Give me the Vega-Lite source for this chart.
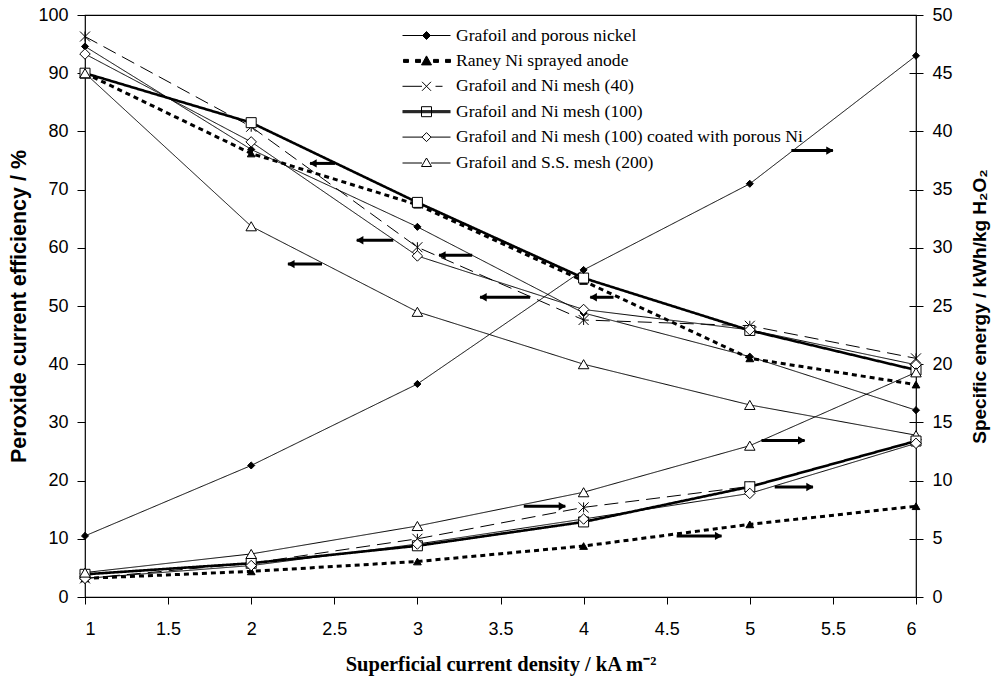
{
  "$schema": "https://vega.github.io/schema/vega-lite/v6.json",
  "width": 831,
  "height": 582,
  "autosize": {"type": "none"},
  "padding": {"left": 85, "top": 15, "right": 80, "bottom": 84},
  "background": "white",
  "config": {
    "view": {"stroke": "black", "strokeWidth": 1.2},
    "axis": {
      "grid": false,
      "domain": false,
      "tickColor": "black",
      "tickWidth": 1,
      "tickSize": 7,
      "labelFont": "Liberation Sans",
      "labelFontSize": 18,
      "labelColor": "black",
      "titleFont": "Liberation Sans",
      "titleFontSize": 18,
      "titleFontWeight": "bold",
      "titleColor": "black"
    },
    "legend": {
      "orient": "none",
      "legendX": 331,
      "legendY": 10,
      "title": null,
      "padding": 0,
      "labelFont": "Times New Roman, Liberation Serif, serif",
      "labelFontSize": 17.6,
      "labelColor": "black",
      "labelLimit": 500,
      "labelOffset": 19,
      "symbolSize": 400,
      "rowPadding": 5.4,
      "symbolStrokeWidth": 1,
      "symbolStrokeColor": "black"
    }
  },
  "datasets": {
    "curves": [
      {"series": "Grafoil and porous nickel", "x": 1, "eff": 94.6, "energy": 5.25},
      {"series": "Grafoil and porous nickel", "x": 2, "eff": 76.9, "energy": 11.3},
      {"series": "Grafoil and porous nickel", "x": 3, "eff": 63.6, "energy": 18.3},
      {"series": "Grafoil and porous nickel", "x": 4, "eff": 48.8, "energy": 28.1},
      {"series": "Grafoil and porous nickel", "x": 5, "eff": 41.3, "energy": 35.5},
      {"series": "Grafoil and porous nickel", "x": 6, "eff": 32.1, "energy": 46.5},
      {"series": "Raney Ni sprayed anode", "x": 1, "eff": 90.0, "energy": 1.6},
      {"series": "Raney Ni sprayed anode", "x": 2, "eff": 76.2, "energy": 2.2},
      {"series": "Raney Ni sprayed anode", "x": 3, "eff": 67.4, "energy": 3.05},
      {"series": "Raney Ni sprayed anode", "x": 4, "eff": 54.3, "energy": 4.38},
      {"series": "Raney Ni sprayed anode", "x": 5, "eff": 41.0, "energy": 6.24},
      {"series": "Raney Ni sprayed anode", "x": 6, "eff": 36.5, "energy": 7.8},
      {"series": "Grafoil and Ni mesh (40)", "x": 1, "eff": 96.3, "energy": 1.6},
      {"series": "Grafoil and Ni mesh (40)", "x": 2, "eff": 80.8, "energy": 2.9},
      {"series": "Grafoil and Ni mesh (40)", "x": 3, "eff": 60.1, "energy": 5.0},
      {"series": "Grafoil and Ni mesh (40)", "x": 4, "eff": 47.6, "energy": 7.7},
      {"series": "Grafoil and Ni mesh (40)", "x": 5, "eff": 46.6, "energy": 9.5},
      {"series": "Grafoil and Ni mesh (40)", "x": 6, "eff": 41.0, "energy": 13.4},
      {"series": "Grafoil and Ni mesh (100)", "x": 1, "eff": 90.0, "energy": 1.95},
      {"series": "Grafoil and Ni mesh (100)", "x": 2, "eff": 81.5, "energy": 2.9},
      {"series": "Grafoil and Ni mesh (100)", "x": 3, "eff": 67.8, "energy": 4.4},
      {"series": "Grafoil and Ni mesh (100)", "x": 4, "eff": 54.8, "energy": 6.45},
      {"series": "Grafoil and Ni mesh (100)", "x": 5, "eff": 45.8, "energy": 9.47},
      {"series": "Grafoil and Ni mesh (100)", "x": 6, "eff": 39.0, "energy": 13.4},
      {"series": "Grafoil and Ni mesh (100) coated with porous Ni", "x": 1, "eff": 93.3, "energy": 1.6},
      {"series": "Grafoil and Ni mesh (100) coated with porous Ni", "x": 2, "eff": 78.2, "energy": 2.7},
      {"series": "Grafoil and Ni mesh (100) coated with porous Ni", "x": 3, "eff": 58.6, "energy": 4.55},
      {"series": "Grafoil and Ni mesh (100) coated with porous Ni", "x": 4, "eff": 49.4, "energy": 6.7},
      {"series": "Grafoil and Ni mesh (100) coated with porous Ni", "x": 5, "eff": 45.9, "energy": 8.9},
      {"series": "Grafoil and Ni mesh (100) coated with porous Ni", "x": 6, "eff": 39.9, "energy": 13.2},
      {"series": "Grafoil and S.S. mesh (200)", "x": 1, "eff": 90.0, "energy": 2.1},
      {"series": "Grafoil and S.S. mesh (200)", "x": 2, "eff": 63.7, "energy": 3.7},
      {"series": "Grafoil and S.S. mesh (200)", "x": 3, "eff": 49.0, "energy": 6.1},
      {"series": "Grafoil and S.S. mesh (200)", "x": 4, "eff": 40.0, "energy": 9.0},
      {"series": "Grafoil and S.S. mesh (200)", "x": 5, "eff": 33.0, "energy": 13.0},
      {"series": "Grafoil and S.S. mesh (200)", "x": 6, "eff": 27.8, "energy": 19.3}
    ],
    "arrows": [
      {"x": 2.504, "x2": 2.354, "y": 74.5, "dir": "left"},
      {"x": 2.855, "x2": 2.635, "y": 61.3, "dir": "left"},
      {"x": 2.426, "x2": 2.221, "y": 57.2, "dir": "left"},
      {"x": 3.33, "x2": 3.13, "y": 58.7, "dir": "left"},
      {"x": 3.678, "x2": 3.377, "y": 51.5, "dir": "left"},
      {"x": 4.18, "x2": 4.04, "y": 51.5, "dir": "left"},
      {"x": 5.25, "x2": 5.5, "y": 76.7, "dir": "right"},
      {"x": 5.07, "x2": 5.33, "y": 26.9, "dir": "right"},
      {"x": 5.15, "x2": 5.38, "y": 18.9, "dir": "right"},
      {"x": 3.64, "x2": 3.89, "y": 15.6, "dir": "right"},
      {"x": 4.56, "x2": 4.83, "y": 10.5, "dir": "right"}
    ]
  },
  "layer": [
    {
      "layer": [
        {
          "data": {"name": "curves"},
          "layer": [
            {
              "mark": {"type": "line", "color": "black"},
              "encoding": {
                "x": {"field": "x", "type": "quantitative", "title": "Superficial current density / kA m⁻²",
                      "scale": {"domain": [1, 6]},
                      "axis": {"values": [1, 1.5, 2, 2.5, 3, 3.5, 4, 4.5, 5, 5.5, 6], "format": "~g", "labelPadding": 16, "titleFont": "Times New Roman, Liberation Serif, serif", "titleFontSize": 20.5, "titlePadding": 16}},
                "y": {"field": "eff", "type": "quantitative", "title": "Peroxide current efficiency / %",
                      "scale": {"domain": [0, 100]},
                      "axis": {"values": [0, 10, 20, 30, 40, 50, 60, 70, 80, 90, 100], "tickSize": 8, "labelPadding": 9, "titleFontSize": 21.5, "titlePadding": 7}},
                "detail": {"field": "series"},
                "strokeDash": {"field": "series", "type": "nominal", "legend": null,
                  "scale": {"domain": ["Grafoil and porous nickel", "Raney Ni sprayed anode", "Grafoil and Ni mesh (40)", "Grafoil and Ni mesh (100)", "Grafoil and Ni mesh (100) coated with porous Ni", "Grafoil and S.S. mesh (200)"],
                            "range": [[1, 0], [5, 4], [14, 7], [1, 0], [1, 0], [1, 0]]}},
                "strokeWidth": {"field": "series", "type": "ordinal", "legend": null,
                  "scale": {"type": "ordinal", "domain": ["Grafoil and porous nickel", "Raney Ni sprayed anode", "Grafoil and Ni mesh (40)", "Grafoil and Ni mesh (100)", "Grafoil and Ni mesh (100) coated with porous Ni", "Grafoil and S.S. mesh (200)"],
                            "range": [1, 3, 1, 2.6, 1, 1]}}
              }
            },
            {
              "mark": {"type": "point", "filled": true, "stroke": "black", "strokeWidth": 1, "opacity": 1},
              "encoding": {
                "x": {"field": "x", "type": "quantitative", "title": "Superficial current density / kA m⁻²"},
                "y": {"field": "eff", "type": "quantitative", "title": "Peroxide current efficiency / %"},
                "shape": {"field": "series", "type": "nominal", "legend": null,
                  "scale": {"domain": ["Grafoil and porous nickel", "Raney Ni sprayed anode", "Grafoil and Ni mesh (40)", "Grafoil and Ni mesh (100)", "Grafoil and Ni mesh (100) coated with porous Ni", "Grafoil and S.S. mesh (200)"],
                            "range": ["diamond", "triangle-up", "M-1,-1L1,1M-1,1L1,-1M0,-1L0,1", "square", "diamond", "triangle-up"]}},
                "fill": {"field": "series", "type": "nominal", "legend": null,
                  "scale": {"domain": ["Grafoil and porous nickel", "Raney Ni sprayed anode", "Grafoil and Ni mesh (40)", "Grafoil and Ni mesh (100)", "Grafoil and Ni mesh (100) coated with porous Ni", "Grafoil and S.S. mesh (200)"],
                            "range": ["black", "black", "transparent", "white", "white", "white"]}},
                "size": {"field": "series", "type": "ordinal", "legend": null,
                  "scale": {"type": "ordinal", "domain": ["Grafoil and porous nickel", "Raney Ni sprayed anode", "Grafoil and Ni mesh (40)", "Grafoil and Ni mesh (100)", "Grafoil and Ni mesh (100) coated with porous Ni", "Grafoil and S.S. mesh (200)"],
                            "range": [50, 60, 100, 100, 110, 110]}}
              }
            },
            {
              "data": {"name": "arrows"},
              "mark": {"type": "rule", "color": "black", "strokeWidth": 3},
              "encoding": {
                "x": {"field": "x", "type": "quantitative", "title": "Superficial current density / kA m⁻²"},
                "x2": {"field": "x2"},
                "y": {"field": "y", "type": "quantitative", "title": "Peroxide current efficiency / %"}
              }
            },
            {
              "data": {"name": "arrows"},
              "transform": [{"filter": "datum.dir === 'left'"}],
              "mark": {"type": "point", "shape": "triangle-left", "filled": true, "color": "black", "opacity": 1, "size": 70, "xOffset": 3},
              "encoding": {
                "x": {"field": "x2", "type": "quantitative", "title": "Superficial current density / kA m⁻²"},
                "y": {"field": "y", "type": "quantitative", "title": "Peroxide current efficiency / %"}
              }
            },
            {
              "data": {"name": "arrows"},
              "transform": [{"filter": "datum.dir === 'right'"}],
              "mark": {"type": "point", "shape": "triangle-right", "filled": true, "color": "black", "opacity": 1, "size": 70, "xOffset": -3},
              "encoding": {
                "x": {"field": "x2", "type": "quantitative", "title": "Superficial current density / kA m⁻²"},
                "y": {"field": "y", "type": "quantitative", "title": "Peroxide current efficiency / %"}
              }
            }
          ]
        },
        {
          "data": {"name": "curves"},
          "layer": [
            {
              "mark": {"type": "line", "color": "black"},
              "encoding": {
                "x": {"field": "x", "type": "quantitative", "title": "Superficial current density / kA m⁻²"},
                "y": {"field": "energy", "type": "quantitative", "title": "Specific energy / kWh/kg H₂O₂",
                      "scale": {"domain": [0, 50]},
                      "axis": {"orient": "right", "values": [0, 5, 10, 15, 20, 25, 30, 35, 40, 45, 50], "tickSize": 7, "labelPadding": 9, "titleAngle": 270, "titleBaseline": "top", "titleFontSize": 19, "titlePadding": 18}},
                "detail": {"field": "series"},
                "strokeDash": {"field": "series", "type": "nominal", "legend": null,
                  "scale": {"domain": ["Grafoil and porous nickel", "Raney Ni sprayed anode", "Grafoil and Ni mesh (40)", "Grafoil and Ni mesh (100)", "Grafoil and Ni mesh (100) coated with porous Ni", "Grafoil and S.S. mesh (200)"],
                            "range": [[1, 0], [5, 4], [14, 7], [1, 0], [1, 0], [1, 0]]}},
                "strokeWidth": {"field": "series", "type": "ordinal", "legend": null,
                  "scale": {"type": "ordinal", "domain": ["Grafoil and porous nickel", "Raney Ni sprayed anode", "Grafoil and Ni mesh (40)", "Grafoil and Ni mesh (100)", "Grafoil and Ni mesh (100) coated with porous Ni", "Grafoil and S.S. mesh (200)"],
                            "range": [1, 3, 1, 2.6, 1, 1]}}
              }
            },
            {
              "mark": {"type": "point", "filled": true, "stroke": "black", "strokeWidth": 1, "opacity": 1},
              "encoding": {
                "x": {"field": "x", "type": "quantitative", "title": "Superficial current density / kA m⁻²"},
                "y": {"field": "energy", "type": "quantitative", "title": "Specific energy / kWh/kg H₂O₂",
                      "axis": {"orient": "right", "values": [0, 5, 10, 15, 20, 25, 30, 35, 40, 45, 50], "tickSize": -7, "labels": false, "title": null}},
                "shape": {"field": "series", "type": "nominal", "legend": null,
                  "scale": {"domain": ["Grafoil and porous nickel", "Raney Ni sprayed anode", "Grafoil and Ni mesh (40)", "Grafoil and Ni mesh (100)", "Grafoil and Ni mesh (100) coated with porous Ni", "Grafoil and S.S. mesh (200)"],
                            "range": ["diamond", "triangle-up", "M-1,-1L1,1M-1,1L1,-1M0,-1L0,1", "square", "diamond", "triangle-up"]}},
                "fill": {"field": "series", "type": "nominal", "legend": null,
                  "scale": {"domain": ["Grafoil and porous nickel", "Raney Ni sprayed anode", "Grafoil and Ni mesh (40)", "Grafoil and Ni mesh (100)", "Grafoil and Ni mesh (100) coated with porous Ni", "Grafoil and S.S. mesh (200)"],
                            "range": ["black", "black", "transparent", "white", "white", "white"]}},
                "size": {"field": "series", "type": "ordinal", "legend": null,
                  "scale": {"type": "ordinal", "domain": ["Grafoil and porous nickel", "Raney Ni sprayed anode", "Grafoil and Ni mesh (40)", "Grafoil and Ni mesh (100)", "Grafoil and Ni mesh (100) coated with porous Ni", "Grafoil and S.S. mesh (200)"],
                            "range": [50, 60, 100, 100, 110, 110]}}
              }
            }
          ],
          "resolve": {"axis": {"y": "independent"}}
        }
      ],
      "resolve": {"scale": {"y": "independent"}}
    },
    {
      "data": {"name": "curves"},
      "mark": {"type": "point", "filled": true, "opacity": 0},
      "encoding": {
        "x": {"field": "x", "type": "quantitative", "title": "Superficial current density / kA m⁻²"},
        "y": {"field": "eff", "type": "quantitative", "scale": {"domain": [0, 100]}, "axis": null},
        "shape": {"field": "series", "type": "nominal",
          "scale": {"domain": ["Grafoil and porous nickel", "Raney Ni sprayed anode", "Grafoil and Ni mesh (40)", "Grafoil and Ni mesh (100)", "Grafoil and Ni mesh (100) coated with porous Ni", "Grafoil and S.S. mesh (200)"],
                    "range": [
                      "M-2.4,0H2.4M0,-0.4L0.4,0L0,0.4L-0.4,0Z",
                      "M-2.3,-0.15H-1.8V0.15H-2.3ZM-1.1,-0.15H-0.6V0.15H-1.1ZM0,-0.5L0.5,0.4L-0.5,0.4ZM0.7,-0.15H1.2V0.15H0.7ZM1.9,-0.15H2.4V0.15H1.9Z",
                      "M-2.4,0H-0.45M-0.45,-0.45L0.45,0.45M-0.45,0.45L0.45,-0.45M0.9,0H1.6",
                      "M-2.4,-0.1H2.4M-2.4,0H2.4M-2.4,0.1H2.4M-0.5,-0.5H0.5V0.5H-0.5Z",
                      "M-2.4,0H-0.45M0.45,0H2.4M0,-0.45L0.45,0L0,0.45L-0.45,0Z",
                      "M-2.4,0.05H-0.45M0.45,0.05H2.4M0,-0.45L0.5,0.4L-0.5,0.4Z"
                    ]},
          "legend": {"labelFont": "Times New Roman, Liberation Serif, serif", "encode": {"symbols": {"update": {"opacity": {"value": 1}, "stroke": {"value": "black"}, "strokeWidth": {"value": 1}}}}}},
        "fill": {"field": "series", "type": "nominal",
          "scale": {"domain": ["Grafoil and porous nickel", "Raney Ni sprayed anode", "Grafoil and Ni mesh (40)", "Grafoil and Ni mesh (100)", "Grafoil and Ni mesh (100) coated with porous Ni", "Grafoil and S.S. mesh (200)"],
                    "range": ["black", "black", "white", "white", "white", "white"]},
          "legend": {"labelFont": "Times New Roman, Liberation Serif, serif", "encode": {"symbols": {"update": {"opacity": {"value": 1}, "stroke": {"value": "black"}, "strokeWidth": {"value": 1}}}}}}
      }
    }
  ],
  "resolve": {"scale": {"y": "independent", "shape": "independent", "fill": "independent"}}
}
